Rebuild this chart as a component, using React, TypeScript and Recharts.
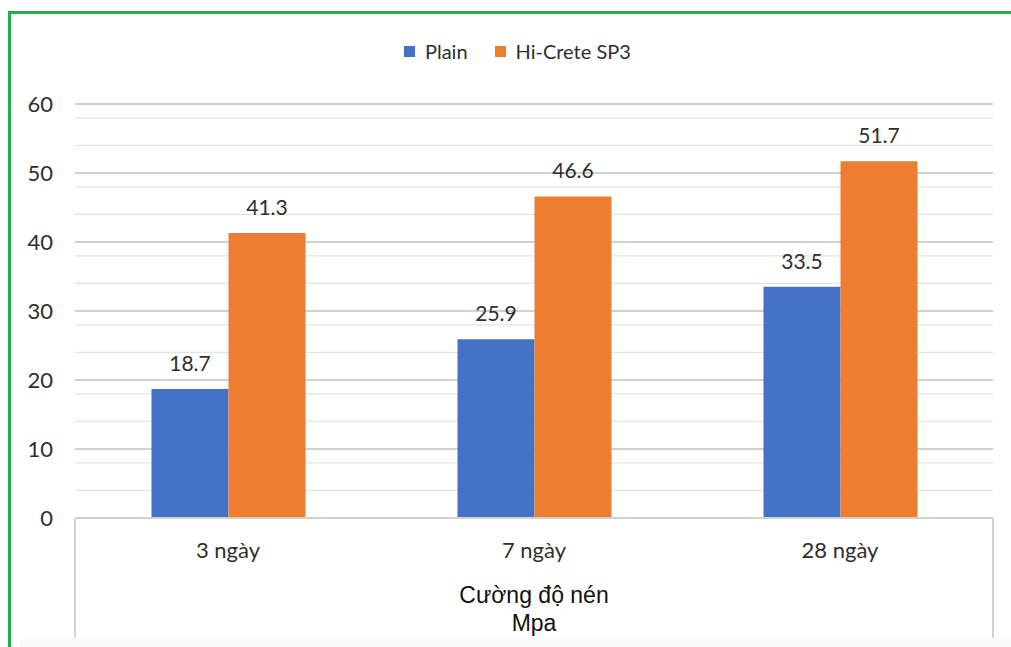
import React from 'react';
import { BarChart, Bar, XAxis, YAxis, CartesianGrid, Legend, LabelList } from 'recharts';

const categories = ['3 ngày', '7 ngày', '28 ngày'];
const plainValues = [18.7, 25.9, 33.5];
const hiCreteValues = [41.3, 46.6, 51.7];
const seriesNames = ['Plain', 'Hi-Crete SP3'];
const seriesColors = ['#4472C4', '#ED7D31'];
const yTicks = [0, 10, 20, 30, 40, 50, 60];
const minorTicks = [2, 4, 6, 8, 12, 14, 16, 18, 22, 24, 26, 28, 32, 34, 36, 38, 42, 44, 46, 48, 52, 54, 56, 58];
const axisTitleLines = ['Cường độ nén', 'Mpa'];

const data = categories.map((c, i) => ({ category: c, plain: plainValues[i], hicrete: hiCreteValues[i] }));

const FONT = 'Lato, "Open Sans", sans-serif';
const TEXT = '#2e2e2e';

const LegendContent = () => (
  <div style={{ display: 'flex', alignItems: 'center', fontFamily: FONT, fontSize: 20, lineHeight: '24px', color: TEXT, whiteSpace: 'nowrap' }}>
    {seriesNames.map((n, i) => (
      <div key={n} style={{ display: 'flex', alignItems: 'center', marginRight: i === 0 ? 27 : 0 }}>
        <span style={{ display: 'inline-block', width: 11, height: 11, background: seriesColors[i], marginRight: 10 }} />
        <span>{n}</span>
      </div>
    ))}
  </div>
);

const XTick = (props: any) => {
  const { x, y, payload } = props;
  return (
    <text x={x} y={y} dy={40} textAnchor="middle" fill={TEXT} fontSize={22} fontFamily={FONT}>
      {payload.value}
    </text>
  );
};

const AxisBox = (props: any) => {
  const vb = props.viewBox || {};
  const { x = 75, y = 518, width = 918 } = vb;
  return (
    <g>
      <line x1={x} y1={y} x2={x} y2={y + 120} stroke="#d4d4d4" strokeWidth={2} />
      <line x1={x + width} y1={y} x2={x + width} y2={y + 120} stroke="#d4d4d4" strokeWidth={2} />
      <text x={x + width / 2} y={y + 85} textAnchor="middle" fill="#111" fontSize={23} fontFamily='"Liberation Sans", Arial, sans-serif'>
        {axisTitleLines[0]}
      </text>
      <text x={x + width / 2} y={y + 113} textAnchor="middle" fill="#111" fontSize={23} fontFamily='"Liberation Sans", Arial, sans-serif'>
        {axisTitleLines[1]}
      </text>
    </g>
  );
};

export default function App() {
  return (
    <div style={{ position: 'absolute', left: 0, top: 0, width: 1011, height: 647, overflow: 'hidden', background: '#fff' }}>
      <div style={{ position: 'absolute', left: 8, top: 11, width: 1100, height: 700, border: '3px solid #1fb050', boxSizing: 'border-box' }} />
      <div style={{ position: 'absolute', left: 20, top: 639, width: 1000, height: 10, background: '#fafaf7' }} />
      <div style={{ position: 'absolute', left: 0, top: 0 }}>
        <BarChart width={1011} height={647} data={data} margin={{ top: 104, right: 18, left: 0, bottom: 0 }} barCategoryGap="25%" barGap={0}>
          <CartesianGrid horizontal={true} vertical={false} horizontalValues={minorTicks} stroke="#e4e4e4" strokeWidth={1.2} />
          <CartesianGrid horizontal={true} vertical={false} stroke="#d0d0d0" strokeWidth={2} />
          <YAxis
            domain={[0, 60]}
            ticks={yTicks}
            width={75}
            axisLine={false}
            tickLine={false}
            tickSize={0}
            tickMargin={22}
            tick={{ fill: TEXT, fontSize: 22, fontFamily: FONT }}
          />
          <XAxis
            dataKey="category"
            height={129}
            axisLine={{ stroke: '#d0d0d0', strokeWidth: 2 }}
            tickLine={false}
            tickSize={0}
            tickMargin={0}
            tick={<XTick />}
            label={{ content: (p: any) => <AxisBox {...p} /> }}
          />
          <Legend verticalAlign="middle" align="center" layout="horizontal" content={<LegendContent />} wrapperStyle={{ top: 39, left: 404, width: 'auto' }} />
          <Bar dataKey="plain" name={seriesNames[0]} fill={seriesColors[0]} isAnimationActive={false}>
            <LabelList dataKey="plain" position="top" offset={18} fill={TEXT} fontSize={21} fontFamily={FONT} />
          </Bar>
          <Bar dataKey="hicrete" name={seriesNames[1]} fill={seriesColors[1]} isAnimationActive={false}>
            <LabelList dataKey="hicrete" position="top" offset={18} fill={TEXT} fontSize={21} fontFamily={FONT} />
          </Bar>
        </BarChart>
      </div>
    </div>
  );
}
